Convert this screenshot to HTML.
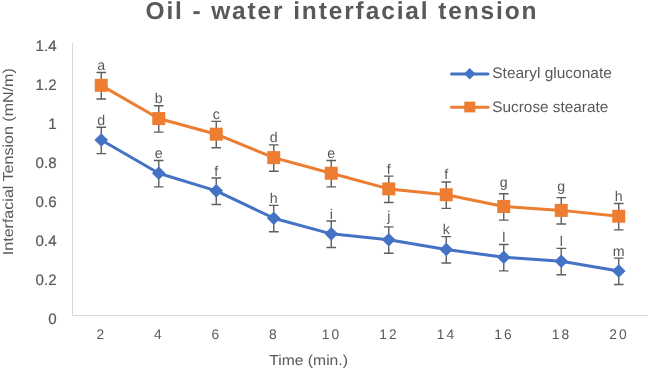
<!DOCTYPE html>
<html><head><meta charset="utf-8"><title>Oil - water interfacial tension</title>
<style>
html,body{margin:0;padding:0;background:#fff;}
body{width:648px;height:368px;overflow:hidden;font-family:"Liberation Sans",sans-serif;}
svg{display:block;opacity:0.999;will-change:transform;font-family:"Liberation Sans",sans-serif;}
text{fill:#595959;text-rendering:geometricPrecision;}
</style></head><body>
<svg width="648" height="368" viewBox="0 0 648 368">
<rect x="0" y="0" width="648" height="368" fill="#ffffff"/>
<text x="145.5" y="19" font-size="24.5" font-weight="bold" textLength="391" lengthAdjust="spacing" fill="#595959">Oil - water interfacial tension</text>
<path d="M72.5 42.8 V315.5 H648" fill="none" stroke="#d9d9d9" stroke-width="1"/>
<text x="56.8" y="324.20" text-anchor="end" font-size="15.1" letter-spacing="0.1" stroke="#595959" stroke-width="0.2">0</text>
<text x="56.8" y="285.12" text-anchor="end" font-size="15.1" letter-spacing="0.1" stroke="#595959" stroke-width="0.2">0.2</text>
<text x="56.8" y="246.04" text-anchor="end" font-size="15.1" letter-spacing="0.1" stroke="#595959" stroke-width="0.2">0.4</text>
<text x="56.8" y="206.96" text-anchor="end" font-size="15.1" letter-spacing="0.1" stroke="#595959" stroke-width="0.2">0.6</text>
<text x="56.8" y="167.88" text-anchor="end" font-size="15.1" letter-spacing="0.1" stroke="#595959" stroke-width="0.2">0.8</text>
<text x="56.8" y="128.80" text-anchor="end" font-size="15.1" letter-spacing="0.1" stroke="#595959" stroke-width="0.2">1</text>
<text x="56.8" y="89.72" text-anchor="end" font-size="15.1" letter-spacing="0.1" stroke="#595959" stroke-width="0.2">1.2</text>
<text x="56.8" y="50.64" text-anchor="end" font-size="15.1" letter-spacing="0.1" stroke="#595959" stroke-width="0.2">1.4</text>
<text x="101.45" y="339.4" text-anchor="middle" font-size="13.8" letter-spacing="2">2</text>
<text x="158.95" y="339.4" text-anchor="middle" font-size="13.8" letter-spacing="2">4</text>
<text x="216.45" y="339.4" text-anchor="middle" font-size="13.8" letter-spacing="2">6</text>
<text x="273.95" y="339.4" text-anchor="middle" font-size="13.8" letter-spacing="2">8</text>
<text x="331.45" y="339.4" text-anchor="middle" font-size="13.8" letter-spacing="2">10</text>
<text x="388.95" y="339.4" text-anchor="middle" font-size="13.8" letter-spacing="2">12</text>
<text x="446.45" y="339.4" text-anchor="middle" font-size="13.8" letter-spacing="2">14</text>
<text x="503.95" y="339.4" text-anchor="middle" font-size="13.8" letter-spacing="2">16</text>
<text x="561.45" y="339.4" text-anchor="middle" font-size="13.8" letter-spacing="2">18</text>
<text x="618.95" y="339.4" text-anchor="middle" font-size="13.8" letter-spacing="2">20</text>
<text x="269.3" y="364.9" font-size="14.4" textLength="78.6" lengthAdjust="spacingAndGlyphs">Time (min.)</text>
<text transform="translate(12.6 255.2) rotate(-90)" font-size="14.4" textLength="187" lengthAdjust="spacingAndGlyphs">Interfacial Tension (mN/m)</text>
<path d="M101.25 127.24V153.64M96.45 127.24h9.6M96.45 153.64h9.6M158.75 160.46V186.86M153.95 160.46h9.6M153.95 186.86h9.6M216.25 178.04V204.44M211.45 178.04h9.6M211.45 204.44h9.6M273.75 205.40V231.80M268.95 205.40h9.6M268.95 231.80h9.6M331.25 221.03V247.43M326.45 221.03h9.6M326.45 247.43h9.6M388.75 226.89V253.29M383.95 226.89h9.6M383.95 253.29h9.6M446.25 236.66V263.06M441.45 236.66h9.6M441.45 263.06h9.6M503.75 244.48V270.88M498.95 244.48h9.6M498.95 270.88h9.6M561.25 248.39V274.79M556.45 248.39h9.6M556.45 274.79h9.6M618.75 258.16V284.56M613.95 258.16h9.6M613.95 284.56h9.6" fill="none" stroke="#5e5e5e" stroke-width="1.4"/>
<polyline points="101.25,140.04 158.75,173.26 216.25,190.84 273.75,218.20 331.25,233.83 388.75,239.69 446.25,249.46 503.75,257.28 561.25,261.19 618.75,270.96" fill="none" stroke="#4472c4" stroke-width="3" stroke-linejoin="round" stroke-linecap="round"/>
<path d="M101.25 133.24L108.05 140.04L101.25 146.84L94.45 140.04Z" fill="#4472c4"/>
<path d="M158.75 166.46L165.55 173.26L158.75 180.06L151.95 173.26Z" fill="#4472c4"/>
<path d="M216.25 184.04L223.05 190.84L216.25 197.64L209.45 190.84Z" fill="#4472c4"/>
<path d="M273.75 211.40L280.55 218.20L273.75 225.00L266.95 218.20Z" fill="#4472c4"/>
<path d="M331.25 227.03L338.05 233.83L331.25 240.63L324.45 233.83Z" fill="#4472c4"/>
<path d="M388.75 232.89L395.55 239.69L388.75 246.49L381.95 239.69Z" fill="#4472c4"/>
<path d="M446.25 242.66L453.05 249.46L446.25 256.26L439.45 249.46Z" fill="#4472c4"/>
<path d="M503.75 250.48L510.55 257.28L503.75 264.08L496.95 257.28Z" fill="#4472c4"/>
<path d="M561.25 254.39L568.05 261.19L561.25 267.99L554.45 261.19Z" fill="#4472c4"/>
<path d="M618.75 264.16L625.55 270.96L618.75 277.76L611.95 270.96Z" fill="#4472c4"/>
<path d="M101.25 72.53V98.93M96.45 72.53h9.6M96.45 98.93h9.6M158.75 105.75V132.15M153.95 105.75h9.6M153.95 132.15h9.6M216.25 121.38V147.78M211.45 121.38h9.6M211.45 147.78h9.6M273.75 144.83V171.23M268.95 144.83h9.6M268.95 171.23h9.6M331.25 160.46V186.86M326.45 160.46h9.6M326.45 186.86h9.6M388.75 176.09V202.49M383.95 176.09h9.6M383.95 202.49h9.6M446.25 181.95V208.35M441.45 181.95h9.6M441.45 208.35h9.6M503.75 193.68V220.08M498.95 193.68h9.6M498.95 220.08h9.6M561.25 197.58V223.98M556.45 197.58h9.6M556.45 223.98h9.6M618.75 203.45V229.85M613.95 203.45h9.6M613.95 229.85h9.6" fill="none" stroke="#5e5e5e" stroke-width="1.4"/>
<polyline points="101.25,85.33 158.75,118.55 216.25,134.18 273.75,157.63 331.25,173.26 388.75,188.89 446.25,194.75 503.75,206.48 561.25,210.38 618.75,216.25" fill="none" stroke="#ed7d31" stroke-width="3" stroke-linejoin="round" stroke-linecap="round"/>
<rect x="94.75" y="78.83" width="13" height="13" fill="#ed7d31"/>
<rect x="152.25" y="112.05" width="13" height="13" fill="#ed7d31"/>
<rect x="209.75" y="127.68" width="13" height="13" fill="#ed7d31"/>
<rect x="267.25" y="151.13" width="13" height="13" fill="#ed7d31"/>
<rect x="324.75" y="166.76" width="13" height="13" fill="#ed7d31"/>
<rect x="382.25" y="182.39" width="13" height="13" fill="#ed7d31"/>
<rect x="439.75" y="188.25" width="13" height="13" fill="#ed7d31"/>
<rect x="497.25" y="199.98" width="13" height="13" fill="#ed7d31"/>
<rect x="554.75" y="203.88" width="13" height="13" fill="#ed7d31"/>
<rect x="612.25" y="209.75" width="13" height="13" fill="#ed7d31"/>
<text x="101.25" y="70.03" text-anchor="middle" font-size="14.2" fill="#6e6e6e">a</text>
<text x="158.75" y="103.25" text-anchor="middle" font-size="14.2" fill="#6e6e6e">b</text>
<text x="216.25" y="118.88" text-anchor="middle" font-size="14.2" fill="#6e6e6e">c</text>
<text x="273.75" y="142.33" text-anchor="middle" font-size="14.2" fill="#6e6e6e">d</text>
<text x="331.25" y="157.96" text-anchor="middle" font-size="14.2" fill="#6e6e6e">e</text>
<text x="388.75" y="173.59" text-anchor="middle" font-size="14.2" fill="#6e6e6e">f</text>
<text x="446.25" y="179.45" text-anchor="middle" font-size="14.2" fill="#6e6e6e">f</text>
<text x="503.75" y="187.28" text-anchor="middle" font-size="14.2" fill="#6e6e6e">g</text>
<text x="561.25" y="191.18" text-anchor="middle" font-size="14.2" fill="#6e6e6e">g</text>
<text x="618.75" y="200.95" text-anchor="middle" font-size="14.2" fill="#6e6e6e">h</text>
<text x="101.25" y="124.74" text-anchor="middle" font-size="14.2" fill="#6e6e6e">d</text>
<text x="158.75" y="157.96" text-anchor="middle" font-size="14.2" fill="#6e6e6e">e</text>
<text x="216.25" y="175.54" text-anchor="middle" font-size="14.2" fill="#6e6e6e">f</text>
<text x="273.75" y="202.90" text-anchor="middle" font-size="14.2" fill="#6e6e6e">h</text>
<text x="331.25" y="218.53" text-anchor="middle" font-size="14.2" fill="#6e6e6e">i</text>
<text x="388.75" y="221.19" text-anchor="middle" font-size="14.2" fill="#6e6e6e">j</text>
<text x="446.25" y="234.16" text-anchor="middle" font-size="14.2" fill="#6e6e6e">k</text>
<text x="503.75" y="241.98" text-anchor="middle" font-size="14.2" fill="#6e6e6e">l</text>
<text x="561.25" y="245.89" text-anchor="middle" font-size="14.2" fill="#6e6e6e">l</text>
<text x="618.75" y="255.66" text-anchor="middle" font-size="14.2" fill="#6e6e6e">m</text>
<path d="M451.5 74.1H488" stroke="#4472c4" stroke-width="3" stroke-linecap="round"/>
<path d="M469.7 68.1l5.7 5.7l-5.7 5.7l-5.7 -5.7Z" fill="#4472c4"/>
<path d="M451.5 107.2H488" stroke="#ed7d31" stroke-width="3" stroke-linecap="round"/>
<rect x="464.3" y="101.6" width="11" height="10.8" fill="#ed7d31"/>
<text x="492.3" y="78.3" font-size="15.3" textLength="119.5" lengthAdjust="spacingAndGlyphs">Stearyl gluconate</text>
<text x="492.3" y="111.7" font-size="15.3" textLength="116" lengthAdjust="spacingAndGlyphs">Sucrose stearate</text>
</svg>
</body></html>
